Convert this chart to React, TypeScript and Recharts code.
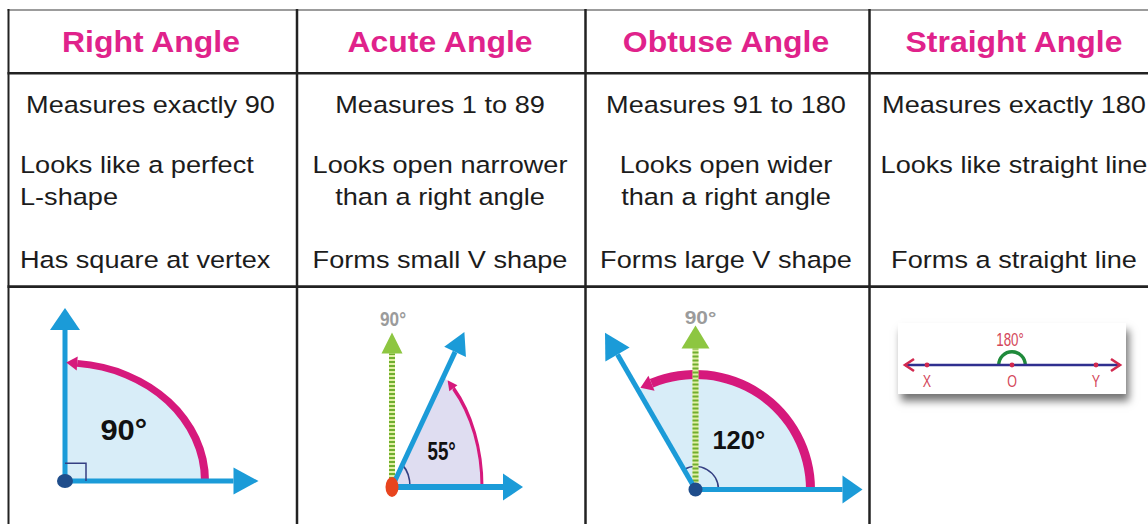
import React from 'react';
import { ScatterChart, Scatter, XAxis, YAxis, PieChart, Pie } from 'recharts';

const FONT = '"Liberation Sans", Arial, Helvetica, sans-serif';

// ---------------- data ----------------
const angleNames = ['Right Angle', 'Acute Angle', 'Obtuse Angle', 'Straight Angle'];
const measureTexts = ['Measures exactly 90', 'Measures 1 to 89', 'Measures 91 to 180', 'Measures exactly 180'];
const looksTexts = [
  ['Looks like a perfect', 'L-shape'],
  ['Looks open narrower', 'than a right angle'],
  ['Looks open wider', 'than a right angle'],
  ['Looks like straight line'],
];
const formTexts = ['Has square at vertex', 'Forms small V shape', 'Forms large V shape', 'Forms a straight line'];

const angleMeasures = [90, 55, 120, 180];
const angleLabels = ['90°', '55°', '120°', '180°'];
const referenceAngle = 90;
const referenceLabel = '90°';
const arcSweeps = [85, 47, 112.5, 180];
const baseArmLengths = [168.5, 111, 147, 108];
const turningArmLengths = [179, 110, 156, 107];
const referenceArmLengths = [0, 89, 141, 0];
const straightPointNames = ['X', 'O', 'Y'];
const straightPointOffsets = [-85, 0, 84];

// ---------------- layout & style ----------------
const PAGE_W = 1148;
const PAGE_H = 524;
const COL_X = [8.5, 297, 585.5, 869.5, 1159];
const COL_CENTER = [151, 440, 726, 1014];
const DIAGRAM_TOP = 289;
const ZERO = { top: 0, right: 0, bottom: 0, left: 0 };

const BLUE = '#1b9bd8';
const NAVY = '#1f4d8b';
const NAVY_THIN = '#343f82';
const PINK = '#d6197c';
const GREEN = '#8dc641';
const GREEN_DASH = '#6fae2f';
const PALE = '#e2efa4';
const LIGHT_BLUE = '#d8edf8';
const LAVENDER = '#dfddf1';
const RED_DOT = '#e8441e';
const GRAY = '#9b9b9b';
const HEADER_PINK = '#e0228b';
const TEXT = '#1c1c1c';
const CARD_RED = '#d2294f';
const LABEL_RED = '#d4475a';
const LINE_NAVY = '#2f2f8f';
const ARC_GREEN = '#1f8a3b';

const DIAGRAMS: any[] = [
  {
    vx: 64.5, vy: 481, k: 0.843, r: 140, ringW: 8, sectorFill: LIGHT_BLUE, baseW: 5, turnW: 5,
    baseArrow: { len: 25, hw: 13.5 }, turnArrow: { len: 22, hw: 15 }, arcArrow: { len: 11, hw: 7 },
    smallR: 0, square: 21,
    labelAt: { x: 58.8, y: 61.7 }, labelStyle: { fs: 30, sx: 1.03, color: '#111', weight: 700 },
    dot: { rx: 8, ry: 7, color: NAVY },
  },
  {
    vx: 392, vy: 487, k: 1.5, r: 90, ringW: 3, sectorFill: LAVENDER, baseW: 6, turnW: 5,
    baseArrow: { len: 20, hw: 13.5 }, turnArrow: { len: 22, hw: 12 }, refArrow: { len: 21, hw: 10.5 },
    arcArrow: { len: 10, hw: 5 }, smallR: 18, square: 0,
    labelAt: { x: 49.7, y: 24.2 }, labelStyle: { fs: 26, sx: 0.72, color: '#111', weight: 700 },
    refLabelAt: { x: 1, y: 112.7 }, refLabelStyle: { fs: 21, sx: 0.82, color: GRAY, weight: 700 },
    dot: { rx: 6.5, ry: 10, color: RED_DOT },
  },
  {
    vx: 695, vy: 489.5, k: 1, r: 115, ringW: 9, sectorFill: LIGHT_BLUE, baseW: 5, turnW: 5,
    baseArrow: { len: 20, hw: 14 }, turnArrow: { len: 25, hw: 14 }, refArrow: { len: 23, hw: 14 },
    arcArrow: { len: 12, hw: 8 }, smallR: 23, square: 0,
    labelAt: { x: 43.3, y: 49.5 }, labelStyle: { fs: 25, sx: 1.02, color: '#111', weight: 700 },
    refLabelAt: { x: 5, y: 172.8 }, refLabelStyle: { fs: 19, sx: 1.1, color: GRAY, weight: 700 },
    dot: { rx: 7, ry: 7, color: NAVY },
  },
];

const rad = (d: number) => (d * Math.PI) / 180;
const polar = (deg: number, len: number) => ({ x: len * Math.cos(rad(deg)), y: len * Math.sin(rad(deg)) });

function NoMark() {
  return <g />;
}

function MarkShape(props: any) {
  const { cx, cy, payload } = props;
  if (cx == null || cy == null || !payload) return <g />;
  const parts: any[] = [];
  const a = payload.arrow;
  if (a) {
    const c = Math.cos(a.dir);
    const s = Math.sin(a.dir);
    if (a.chevron) {
      const nx = -s;
      const ny = c;
      const p1 = `${cx - c * a.len + nx * a.hw},${cy - s * a.len + ny * a.hw}`;
      const p2 = `${cx - c * a.len - nx * a.hw},${cy - s * a.len - ny * a.hw}`;
      parts.push(
        <polyline key="ch" points={`${p1} ${cx},${cy} ${p2}`} fill="none" stroke={a.color} strokeWidth={2.6} strokeLinejoin="miter" />
      );
    } else {
      const tip = `${cx + c * a.len},${cy + s * a.len}`;
      const b1 = `${cx - s * a.hw},${cy + c * a.hw}`;
      const b2 = `${cx + s * a.hw},${cy - c * a.hw}`;
      parts.push(<polygon key="ar" points={`${tip} ${b1} ${b2}`} fill={a.color} />);
    }
  }
  if (payload.dot) {
    const d = payload.dot;
    parts.push(<ellipse key="dot" cx={cx} cy={cy} rx={d.rx} ry={d.ry} fill={d.color} />);
  }
  if (payload.label) {
    const l = payload.label;
    const base = l.dy != null ? cy + l.dy : cy + 0.36 * l.fs;
    parts.push(
      <text
        key="lb"
        transform={`translate(${cx},${base}) scale(${l.sx},1)`}
        textAnchor="middle"
        fontFamily={FONT}
        fontWeight={l.weight}
        fontSize={l.fs}
        fill={l.color}
      >
        {l.text}
      </text>
    );
  }
  return <g>{parts}</g>;
}

function AngleDiagram({ i }: { i: number }) {
  const cfg = DIAGRAMS[i];
  const left = COL_X[i];
  const W = Math.round(COL_X[i + 1] - left);
  const H = PAGE_H - DIAGRAM_TOP;
  const ox = cfg.vx - left;
  const oy = cfg.vy - DIAGRAM_TOP;
  const k = cfg.k;
  const rayDir = (deg: number) => Math.atan2(-k * Math.sin(rad(deg)), Math.cos(rad(deg)));
  const tanDir = (deg: number) => Math.atan2(-k * Math.cos(rad(deg)), -Math.sin(rad(deg)));
  const measure = angleMeasures[i];
  const sweep = arcSweeps[i];
  const origin = { x: 0, y: 0 };

  const baseRay = [origin, { ...polar(0, baseArmLengths[i]), arrow: { dir: rayDir(0), ...cfg.baseArrow, color: BLUE } }];
  const turnRay = [
    origin,
    { ...polar(measure, turningArmLengths[i]), arrow: { dir: rayDir(measure), ...cfg.turnArrow, color: BLUE } },
  ];
  const refRay =
    referenceArmLengths[i] > 0
      ? [
          origin,
          {
            ...polar(referenceAngle, referenceArmLengths[i]),
            arrow: { dir: rayDir(referenceAngle), ...cfg.refArrow, color: GREEN },
          },
        ]
      : null;
  const arcTip = [{ ...polar(sweep, cfg.r), arrow: { dir: tanDir(sweep), ...cfg.arcArrow, color: PINK } }];
  const labels: any[] = [{ ...cfg.labelAt, label: { text: angleLabels[i], ...cfg.labelStyle } }];
  if (refRay && cfg.refLabelAt) labels.push({ ...cfg.refLabelAt, label: { text: referenceLabel, ...cfg.refLabelStyle } });
  const vertex = [{ x: 0, y: 0, dot: cfg.dot }];
  const square = cfg.square
    ? [
        { x: cfg.square, y: 0 },
        { x: cfg.square, y: cfg.square },
        { x: 0, y: cfg.square },
      ]
    : null;

  return (
    <div style={{ position: 'absolute', left, top: DIAGRAM_TOP, width: W, height: H }}>
      <div
        style={{
          position: 'absolute',
          left: 0,
          top: 0,
          width: W,
          height: H,
          transform: `scaleY(${k})`,
          transformOrigin: `${ox}px ${oy}px`,
        }}
      >
        <PieChart width={W} height={H} margin={ZERO}>
          <Pie
            data={[{ value: measure }]}
            dataKey="value"
            cx={ox}
            cy={oy}
            startAngle={0}
            endAngle={measure}
            innerRadius={0}
            outerRadius={cfg.r}
            fill={cfg.sectorFill}
            stroke="none"
            isAnimationActive={false}
          />
          <Pie
            data={[{ value: sweep }]}
            dataKey="value"
            cx={ox}
            cy={oy}
            startAngle={0}
            endAngle={sweep}
            innerRadius={cfg.r - cfg.ringW / 2}
            outerRadius={cfg.r + cfg.ringW / 2}
            fill={PINK}
            stroke="none"
            isAnimationActive={false}
          />
          {cfg.smallR ? (
            <Pie
              data={[{ value: measure }]}
              dataKey="value"
              cx={ox}
              cy={oy}
              startAngle={0}
              endAngle={measure}
              innerRadius={cfg.smallR - 0.8}
              outerRadius={cfg.smallR + 0.8}
              fill={NAVY_THIN}
              stroke="none"
              isAnimationActive={false}
            />
          ) : null}
        </PieChart>
      </div>
      <div style={{ position: 'absolute', left: 0, top: 0 }}>
        <ScatterChart width={W} height={H} margin={ZERO}>
          <XAxis type="number" dataKey="x" domain={[-ox, W - ox]} hide allowDataOverflow height={0} />
          <YAxis type="number" dataKey="y" domain={[-(H - oy) / k, oy / k]} hide allowDataOverflow width={0} />
          {refRay ? (
            <Scatter data={refRay} line={{ stroke: PALE, strokeWidth: 6 }} shape={NoMark} isAnimationActive={false} />
          ) : null}
          {refRay ? (
            <Scatter
              data={refRay}
              line={{ stroke: GREEN_DASH, strokeWidth: 6, strokeDasharray: '2 2' }}
              shape={MarkShape}
              isAnimationActive={false}
            />
          ) : null}
          <Scatter data={baseRay} line={{ stroke: BLUE, strokeWidth: cfg.baseW }} shape={MarkShape} isAnimationActive={false} />
          <Scatter data={turnRay} line={{ stroke: BLUE, strokeWidth: cfg.turnW }} shape={MarkShape} isAnimationActive={false} />
          <Scatter data={arcTip} shape={MarkShape} isAnimationActive={false} />
          {square ? (
            <Scatter data={square} line={{ stroke: NAVY_THIN, strokeWidth: 1.5 }} shape={NoMark} isAnimationActive={false} />
          ) : null}
          <Scatter data={labels} shape={MarkShape} isAnimationActive={false} />
          <Scatter data={vertex} shape={MarkShape} isAnimationActive={false} />
        </ScatterChart>
      </div>
    </div>
  );
}

function StraightDiagram() {
  const left = COL_X[3];
  const cardX = 898 - left;
  const cardY = 323 - DIAGRAM_TOP;
  const cardW = 228;
  const cardH = 71;
  const ox = 114;
  const oy = 42;
  const measure = angleMeasures[3];
  const chev = { chevron: true, len: 9, hw: 6, color: CARD_RED };
  const line = [
    { ...polar(measure, turningArmLengths[3]), arrow: { dir: Math.PI, ...chev } },
    { x: 0, y: 0 },
    { ...polar(0, baseArmLengths[3]), arrow: { dir: 0, ...chev } },
  ];
  const points = straightPointNames.map((name, j) => ({
    x: straightPointOffsets[j],
    y: 0,
    dot: { rx: 2.4, ry: 2.4, color: CARD_RED },
    label: { text: name, fs: 16, sx: 0.78, color: LABEL_RED, weight: 400, dy: 22 },
  }));
  const label = [{ x: -2, y: 25.5, label: { text: angleLabels[3], fs: 18.5, sx: 0.72, color: LABEL_RED, weight: 400 } }];

  return (
    <div style={{ position: 'absolute', left, top: DIAGRAM_TOP, width: PAGE_W - left, height: PAGE_H - DIAGRAM_TOP }}>
      <div
        style={{
          position: 'absolute',
          left: cardX,
          top: cardY,
          width: cardW,
          height: cardH,
          background: '#fff',
          boxShadow: '3px 7px 8px rgba(0,0,0,0.55)',
        }}
      >
        <div style={{ position: 'absolute', left: 0, top: 0 }}>
          <PieChart width={cardW} height={cardH} margin={ZERO}>
            <Pie
              data={[{ value: measure }]}
              dataKey="value"
              cx={ox}
              cy={oy}
              startAngle={0}
              endAngle={measure}
              innerRadius={11.5}
              outerRadius={15}
              fill={ARC_GREEN}
              stroke="none"
              isAnimationActive={false}
            />
          </PieChart>
        </div>
        <div style={{ position: 'absolute', left: 0, top: 0 }}>
          <ScatterChart width={cardW} height={cardH} margin={ZERO}>
            <XAxis type="number" dataKey="x" domain={[-ox, cardW - ox]} hide allowDataOverflow height={0} />
            <YAxis type="number" dataKey="y" domain={[-(cardH - oy), oy]} hide allowDataOverflow width={0} />
            <Scatter data={line} line={{ stroke: LINE_NAVY, strokeWidth: 2.6 }} shape={MarkShape} isAnimationActive={false} />
            <Scatter data={points} shape={MarkShape} isAnimationActive={false} />
            <Scatter data={label} shape={MarkShape} isAnimationActive={false} />
          </ScatterChart>
        </div>
      </div>
    </div>
  );
}

function TextLine({ x, y, text, anchor, size, sx, weight, color }: any) {
  return (
    <text
      transform={`translate(${x},${y}) scale(${sx},1)`}
      textAnchor={anchor}
      fontFamily={FONT}
      fontSize={size}
      fontWeight={weight}
      fill={color}
    >
      {text}
    </text>
  );
}

function TableOverlay() {
  const desc = { size: 23.5, sx: 1.155, weight: 400, color: TEXT };
  const head = { size: 29.3, sx: 1.09, weight: 700, color: HEADER_PINK };
  const items: any[] = [];
  angleNames.forEach((name, c) => {
    items.push({ ...head, x: COL_CENTER[c], y: 52, text: name, anchor: 'middle' });
    items.push({ ...desc, x: COL_CENTER[c] - (c === 0 ? 0.5 : 0), y: 113, text: measureTexts[c], anchor: 'middle' });
    const leftAligned = c === 0;
    looksTexts[c].forEach((t, j) => {
      items.push({ ...desc, x: leftAligned ? 20 : COL_CENTER[c], y: j === 0 ? 173 : 205, text: t, anchor: leftAligned ? 'start' : 'middle' });
    });
    items.push({ ...desc, x: leftAligned ? 20 : COL_CENTER[c], y: 268, text: formTexts[c], anchor: leftAligned ? 'start' : 'middle' });
  });
  return (
    <svg width={PAGE_W} height={PAGE_H} style={{ position: 'absolute', left: 0, top: 0, pointerEvents: 'none' }}>
      <line x1={7.5} x2={PAGE_W} y1={10} y2={10} stroke="#9c9c9c" strokeWidth={2} />
      <line x1={7.5} x2={PAGE_W} y1={73.3} y2={73.3} stroke="#222" strokeWidth={2.6} />
      <line x1={7.5} x2={PAGE_W} y1={286.6} y2={286.6} stroke="#222" strokeWidth={2.6} />
      {COL_X.slice(0, 4).map((x, j) => (
        <line key={j} x1={x} x2={x} y1={9} y2={PAGE_H} stroke="#222" strokeWidth={j === 0 ? 2 : 2.5} />
      ))}
      {items.map((it, j) => (
        <TextLine key={j} {...it} />
      ))}
    </svg>
  );
}

export default function App() {
  return (
    <div
      style={{
        position: 'absolute',
        left: 0,
        top: 0,
        width: PAGE_W,
        height: PAGE_H,
        overflow: 'hidden',
        background: '#fff',
        fontFamily: FONT,
      }}
    >
      {[0, 1, 2].map((i) => (
        <AngleDiagram key={i} i={i} />
      ))}
      <StraightDiagram />
      <TableOverlay />
    </div>
  );
}
